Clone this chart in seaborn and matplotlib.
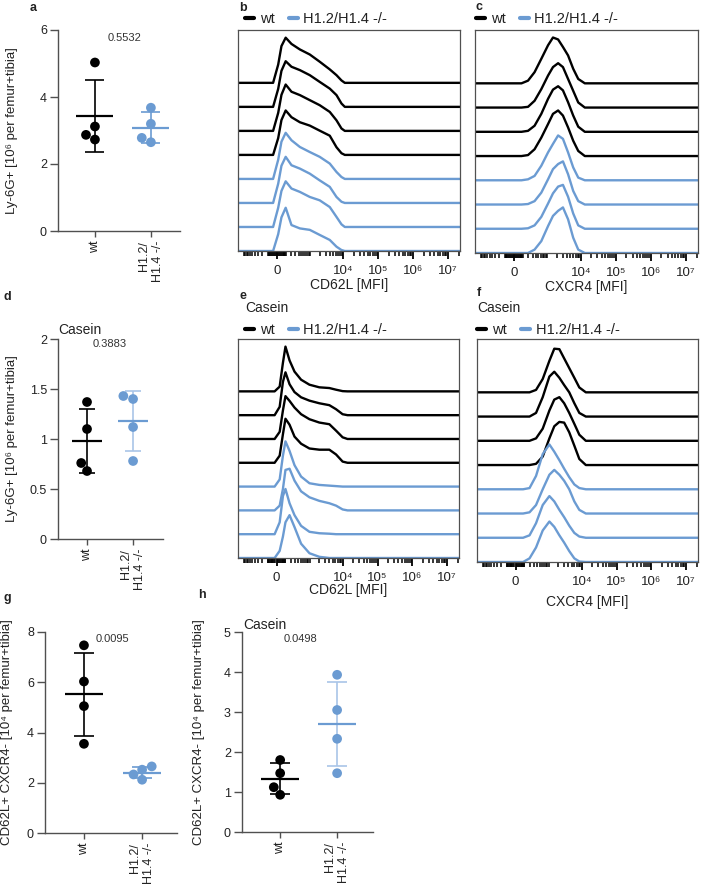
import numpy as np
import pandas as pd
import matplotlib
matplotlib.use("Agg")
import matplotlib.pyplot as plt
import seaborn as sns
from matplotlib.lines import Line2D

sns.set_style("ticks")
plt.rcParams['font.family'] = ['Liberation Sans', 'DejaVu Sans']

BLACK = "#000000"
BLUE = "#6b9bd2"
LIGHT_BLUE = "#a9c5e8"
GREY = "#505050"
TEXT = "#222222"

genotypes = ["wt", "H1.2/\nH1.4 -/-"]

# dot plots (a, d, g, h)
ly6g_wt = [5.03, 3.12, 2.87, 2.73]
ly6g_ko = [3.68, 3.20, 2.78, 2.65]
ly6g_casein_wt = [1.37, 1.10, 0.76, 0.68]
ly6g_casein_ko = [1.43, 1.40, 1.12, 0.78]
cd62l_cxcr4_wt = [7.47, 6.03, 5.05, 3.55]
cd62l_cxcr4_ko = [2.65, 2.52, 2.33, 2.12]
cd62l_cxcr4_casein_wt = [1.80, 1.47, 1.12, 0.93]
cd62l_cxcr4_casein_ko = [3.93, 3.05, 2.33, 1.47]

p_values = {"a": "0.5532", "d": "0.3883", "g": "0.0095", "h": "0.0498"}

# flow histograms: MFI sample points and normalised counts, top curve first
mfi_cd62l = [-1500, -35, 12, 45, 100, 205, 450, 980, 2000, 4000, 6300, 8800, 11000, 2.2e7]
cd62l_wt = [
    [0, 0, 0.76, 1.53, 1.88, 1.62, 1.39, 1.18, 0.88, 0.56, 0.32, 0.10, 0, 0],
    [0, 0, 0.75, 1.50, 1.90, 1.67, 1.53, 1.32, 1.04, 0.76, 0.49, 0.14, 0, 0],
    [0, 0, 0.75, 1.50, 1.93, 1.63, 1.49, 1.28, 1.07, 0.79, 0.44, 0.10, 0, 0],
    [0, 0, 0.70, 1.45, 1.85, 1.57, 1.36, 1.22, 1.01, 0.80, 0.32, 0.07, 0, 0],
]
cd62l_ko = [
    [0, 0, 0.80, 1.55, 1.92, 1.61, 1.33, 1.12, 0.92, 0.64, 0.29, 0.08, 0, 0],
    [0, 0, 0.80, 1.55, 1.92, 1.57, 1.43, 1.22, 0.94, 0.67, 0.25, 0.05, 0, 0],
    [0, 0, 0.80, 1.50, 1.90, 1.60, 1.46, 1.25, 1.11, 0.83, 0.42, 0.11, 0, 0],
    [0, 0, 0.70, 1.40, 1.80, 1.08, 0.94, 0.88, 0.67, 0.46, 0.18, 0.04, 0, 0],
]

mfi_cxcr4 = [-1500, 80, 190, 360, 630, 1050, 1500, 2150, 3000, 4250, 6000, 8400, 13000, 2.2e7]
cxcr4_wt = [
    [0, 0, 0.11, 0.46, 1.01, 1.57, 1.89, 1.81, 1.50, 1.15, 0.60, 0.18, 0, 0],
    [0, 0, 0.03, 0.28, 0.76, 1.32, 1.67, 1.83, 1.67, 1.18, 0.69, 0.21, 0, 0],
    [0, 0, 0.04, 0.25, 0.74, 1.36, 1.74, 1.88, 1.71, 1.22, 0.67, 0.21, 0, 0],
    [0, 0, 0.04, 0.28, 0.76, 1.32, 1.74, 1.88, 1.67, 1.18, 0.63, 0.21, 0, 0],
]
cxcr4_ko = [
    [0, 0, 0.04, 0.18, 0.60, 1.15, 1.50, 1.85, 1.71, 1.15, 0.53, 0.11, 0, 0],
    [0, 0, 0.02, 0.14, 0.49, 1.04, 1.46, 1.67, 1.78, 1.25, 0.56, 0.14, 0, 0],
    [0, 0, 0.02, 0.14, 0.49, 1.04, 1.46, 1.74, 1.81, 1.32, 0.63, 0.14, 0, 0],
    [0, 0, 0.00, 0.14, 0.49, 1.11, 1.53, 1.74, 1.88, 1.39, 0.63, 0.14, 0, 0],
]

mfi_cd62l_casein = [-1500, -18, 28, 65, 100, 170, 285, 510, 980, 2000, 4000, 6300, 9800, 13600, 2.2e7]
cd62l_casein_wt = [
    [0, 0, 0.20, 1.20, 1.88, 1.30, 0.83, 0.49, 0.28, 0.17, 0.14, 0.07, 0.01, 0, 0],
    [0, 0, 0.35, 1.40, 1.80, 1.30, 0.97, 0.75, 0.61, 0.50, 0.42, 0.25, 0.04, 0, 0],
    [0, 0, 0.30, 1.20, 1.80, 1.60, 1.32, 1.04, 0.83, 0.69, 0.62, 0.35, 0.07, 0, 0],
    [0, 0, 0.30, 1.20, 1.85, 1.60, 1.10, 0.80, 0.60, 0.55, 0.55, 0.35, 0.05, 0, 0],
]
cd62l_casein_ko = [
    [0, 0, 0.30, 1.30, 1.90, 1.50, 0.90, 0.42, 0.14, 0.07, 0.04, 0.02, 0, 0, 0],
    [0, 0, 0.20, 0.90, 1.70, 1.75, 1.25, 0.80, 0.55, 0.40, 0.30, 0.20, 0.04, 0, 0],
    [0, 0, 0.50, 1.60, 1.90, 1.30, 0.80, 0.35, 0.10, 0.04, 0.02, 0, 0, 0, 0],
    [0, 0, 0.30, 0.90, 1.50, 1.80, 1.30, 0.60, 0.20, 0.05, 0, 0, 0, 0, 0],
]

cxcr4_casein_wt = [
    [0, 0, 0.00, 0.10, 0.55, 1.30, 1.80, 1.78, 1.40, 1.00, 0.60, 0.20, 0, 0],
    [0, 0, 0.00, 0.15, 0.80, 1.65, 1.85, 1.60, 1.30, 1.00, 0.55, 0.15, 0, 0],
    [0, 0, 0.00, 0.10, 0.50, 1.25, 1.70, 1.80, 1.55, 1.15, 0.70, 0.25, 0, 0],
    [0, 0, 0.00, 0.05, 0.35, 1.10, 1.60, 1.78, 1.75, 1.35, 0.80, 0.25, 0, 0],
]
cxcr4_casein_ko = [
    [0, 0, 0.05, 0.55, 1.45, 1.85, 1.55, 1.20, 0.85, 0.50, 0.20, 0.05, 0, 0],
    [0, 0, 0.05, 0.35, 1.00, 1.60, 1.80, 1.60, 1.35, 1.00, 0.50, 0.15, 0, 0],
    [0, 0, 0.10, 0.60, 1.35, 1.72, 1.50, 1.15, 0.85, 0.50, 0.20, 0.05, 0, 0],
    [0, 0, 0.15, 0.60, 1.30, 1.67, 1.45, 1.10, 0.80, 0.45, 0.15, 0.02, 0, 0],
]

mfi_ticks = [0, 1e4, 1e5, 1e6, 1e7]
mfi_tick_labels = ["0", "10\u2074", "10\u2075", "10\u2076", "10\u2077"]
MFI_LIM = (-1500, 2.2e7)
C_BIEX = 126.0


def biex_fwd(v):
    v = np.asarray(v, dtype=float)
    return np.sign(v) * np.log10(1 + np.abs(v) / C_BIEX)


def biex_inv(u):
    u = np.asarray(u, dtype=float)
    return np.sign(u) * C_BIEX * (10 ** np.abs(u) - 1)


W, H = 701, 896
fig = plt.figure(figsize=(W / 100, H / 100), dpi=100)


def add_axes_px(left, top, right, bottom):
    return fig.add_axes([left / W, 1 - bottom / H, (right - left) / W, (bottom - top) / H])


def fig_text(x, y, s, **kw):
    fig.text(x / W, 1 - y / H, s, **kw)


def dot_panel(ax, wt, ko, ymax, ystep, ylabel, label_x, xlim, ko_bar, pval, pval_xy):
    df = pd.DataFrame({
        "genotype": [genotypes[0]] * len(wt) + [genotypes[1]] * len(ko),
        "value": wt + ko,
    })
    sns.swarmplot(data=df, x="genotype", y="value", hue="genotype", order=genotypes,
                  hue_order=genotypes, palette=[BLACK, BLUE], size=7, ax=ax,
                  legend=False, zorder=3)
    for i, (vals, mcol, bcol) in enumerate([(wt, BLACK, BLACK), (ko, BLUE, ko_bar)]):
        m = np.mean(vals)
        sd = np.std(vals, ddof=1)
        ax.hlines(m, i - 0.33, i + 0.33, color=mcol, lw=1.6, zorder=4)
        ax.vlines(i, m - sd, m + sd, color=bcol, lw=1.2, zorder=2)
        ax.hlines([m - sd, m + sd], i - 0.17, i + 0.17, color=bcol, lw=1.2, zorder=2)
    ax.set_xlim(xlim)
    ax.set_ylim(0, ymax)
    yt = np.arange(0, ymax + ystep / 2, ystep)
    ax.set_yticks(yt, [f"{v:g}" for v in yt])
    ax.set_xticks([0, 1])
    ax.set_xticklabels(genotypes, rotation=90, va="top", ha="center", multialignment="right")
    ax.set_xlabel("")
    ax.set_ylabel(ylabel, fontsize=9.5, color=TEXT)
    ax.yaxis.set_label_coords(label_x, 0.5)
    sns.despine(ax=ax)
    for sp in ["left", "bottom"]:
        ax.spines[sp].set_color(GREY)
        ax.spines[sp].set_linewidth(1.0)
    ax.tick_params(axis="y", length=6, width=1.0, color=GREY, labelsize=9, labelcolor=TEXT, pad=2)
    ax.tick_params(axis="x", length=4, width=1.0, color=GREY, labelsize=9, labelcolor=TEXT, pad=3)
    fig_text(pval_xy[0], pval_xy[1], pval, fontsize=8, color="#333333", ha="center", va="center")


def hist_panel(ax, mfi, wt_curves, ko_curves, xlabel, xlabel_y):
    curves = [("wt", c) for c in wt_curves] + [("ko", c) for c in ko_curves]
    rows = []
    for i, (geno, heights) in enumerate(curves):
        offset = len(curves) - 1 - i
        for x, h in zip(mfi, heights):
            rows.append((x, offset + h, i, geno))
    df = pd.DataFrame(rows, columns=["mfi", "level", "sample", "genotype"])
    sns.lineplot(data=df, x="mfi", y="level", units="sample", hue="genotype",
                 estimator=None, sort=False, palette={"wt": BLACK, "ko": BLUE},
                 linewidth=1.7, legend=False, ax=ax)
    ax.set_xscale("function", functions=(biex_fwd, biex_inv))
    ax.set_xlim(MFI_LIM)
    ax.set_ylim(0, 9.2)
    ax.set_yticks([])
    ax.set_ylabel("")
    ax.set_xticks(mfi_ticks, mfi_tick_labels)
    minor = [s * m * 10 ** k for s in (1, -1) for k in range(1, 8) for m in range(1, 10)]
    minor = [v for v in minor if MFI_LIM[0] <= v <= MFI_LIM[1] and v not in mfi_ticks]
    ax.set_xticks(minor, minor=True)
    ax.tick_params(axis="x", which="major", length=6, width=1.3, color=BLACK,
                   labelsize=9.5, labelcolor=TEXT, pad=4)
    ax.tick_params(axis="x", which="minor", length=3.5, width=1.1, color=BLACK)
    ax.set_xlabel(xlabel, fontsize=10, color=TEXT)
    ax.xaxis.set_label_coords(0.5, xlabel_y)
    for sp in ax.spines.values():
        sp.set_visible(True)
        sp.set_color(GREY)
        sp.set_linewidth(0.9)
    for line in ax.get_lines():
        line.set_solid_joinstyle("round")


def hist_legend(ax, x, y):
    handles = [Line2D([], [], color=BLACK, lw=3), Line2D([], [], color=BLUE, lw=3)]
    ax.legend(handles, ["wt", "H1.2/H1.4 -/-"], loc="center left",
              bbox_to_anchor=(x / W, 1 - y / H), bbox_transform=fig.transFigure,
              ncol=2, frameon=False, fontsize=10.5, handlelength=0.65,
              handletextpad=0.35, columnspacing=1.0, borderpad=0, borderaxespad=0,
              labelcolor=TEXT)


ly6g_label = "Ly-6G+ [10\u2076 per femur+tibia]"
cd62l_label = "CD62L+ CXCR4- [10\u2074 per femur+tibia]"

ax_a = add_axes_px(58, 30, 180, 231)
dot_panel(ax_a, ly6g_wt, ly6g_ko, 6, 2, ly6g_label, -0.33, (-0.66, 1.52), BLUE,
          p_values["a"], (125, 38))

ax_d = add_axes_px(58, 339, 163, 539)
dot_panel(ax_d, ly6g_casein_wt, ly6g_casein_ko, 2, 0.5, ly6g_label, -0.38, (-0.63, 1.65),
          LIGHT_BLUE, p_values["d"], (110, 344))

ax_g = add_axes_px(45, 632, 177, 833)
dot_panel(ax_g, cd62l_cxcr4_wt, cd62l_cxcr4_ko, 8, 2, cd62l_label, -0.24, (-0.67, 1.6),
          BLUE, p_values["g"], (112, 639))

ax_h = add_axes_px(242, 632, 373, 832)
dot_panel(ax_h, cd62l_cxcr4_casein_wt, cd62l_cxcr4_casein_ko, 5, 1, cd62l_label, -0.28,
          (-0.67, 1.63), LIGHT_BLUE, p_values["h"], (301, 639))

ax_b = add_axes_px(238, 30, 460, 251)
hist_panel(ax_b, mfi_cd62l, cd62l_wt, cd62l_ko, "CD62L [MFI]", -0.12)
hist_legend(ax_b, 245, 19)

ax_c = add_axes_px(475, 30, 698, 253)
hist_panel(ax_c, mfi_cxcr4, cxcr4_wt, cxcr4_ko, "CXCR4 [MFI]", -0.12)
hist_legend(ax_c, 476, 19)

ax_e = add_axes_px(238, 339, 459, 558)
hist_panel(ax_e, mfi_cd62l_casein, cd62l_casein_wt, cd62l_casein_ko, "CD62L [MFI]", -0.115)
hist_legend(ax_e, 245, 330)

ax_f = add_axes_px(477, 339, 698, 562)
hist_panel(ax_f, mfi_cxcr4, cxcr4_casein_wt, cxcr4_casein_ko, "CXCR4 [MFI]", -0.148)
hist_legend(ax_f, 477, 330)

# panel letters and condition labels
for letter, x, y in [("a", 30, 8), ("b", 239, 8), ("c", 476, 7), ("d", 3, 297),
                     ("e", 239, 296), ("f", 477, 293), ("g", 3, 598), ("h", 198, 595)]:
    fig_text(x, y, letter, fontsize=9, fontweight="bold", color=TEXT, va="center")

for x, y in [(58, 330), (245, 308), (477, 308), (243, 625)]:
    fig_text(x, y, "Casein", fontsize=10, color=TEXT, va="center")

fig.savefig("out.png", dpi=100)
